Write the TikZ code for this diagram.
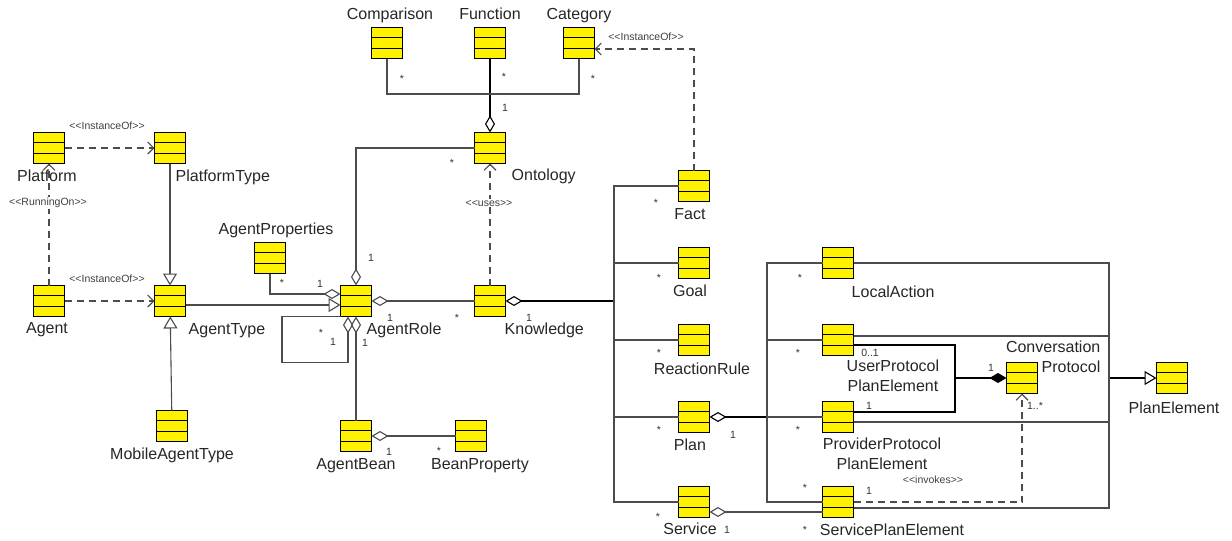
\documentclass[tikz,border=0pt]{standalone}
\usepackage{fontspec}
\setmainfont{Liberation Sans}
\usetikzlibrary{positioning,arrows.meta,calc}
\newcommand{\sttype}[1]{<\kern0pt<#1>\kern0pt>}
\tikzset{
	uml/.style={x=1pt,y=-1pt,line join=miter},
	cls/.style={rectangle,draw=black,line width=1.3pt,fill=yellow,minimum width=31pt,minimum height=31pt,inner sep=0pt,outer sep=0pt,
		path picture={\draw[line width=1.3pt]
			([yshift=-10.33pt]path picture bounding box.north west) -- ([yshift=-10.33pt]path picture bounding box.north east)
			([yshift=10.33pt]path picture bounding box.south west) -- ([yshift=10.33pt]path picture bounding box.south east);}},
	cname/.style={font=\fontsize{16}{20}\selectfont,inner sep=0pt,align=center,text=black!85,text height=11.7pt,text depth=3.4pt},
	cname2/.style={cname,text height=,text depth=},
	mult/.style={font=\fontsize{10.5}{12}\selectfont,inner sep=0pt,text=black!80},
	stereo/.style={font=\fontsize{10.5}{12}\selectfont,inner sep=1pt,text=black!75},
	assoc/.style={draw=black!70,line width=1.1pt},
	aggr/.style={assoc,{Diamond[open,length=17pt,width=10pt]}-},
	comp/.style={assoc,draw=black,{Diamond[length=17pt,width=10pt]}-},
	gen/.style={assoc,-{Triangle[open,length=12pt,width=14pt]}},
	dep/.style={assoc,dash pattern=on 7pt off 5pt,-{Straight Barb[length=6pt,width=12pt]}}
}

\begin{document}
\begin{tikzpicture}[uml]
	\useasboundingbox (0,0) rectangle (1232,541);
	
	% classes
	\node[cls] (comparison) at (387,43) {};
	\node[cls] (function) at (490,43) {};
	\node[cls] (category) at (579,43) {};
	\node[cls] (ontology) at (490,148) {};
	\node[cls] (platform) at (49,148) {};
	\node[cls] (platformtype) at (170,148) {};
	\node[cls] (agent) at (49,301) {};
	\node[cls] (agenttype) at (170,301) {};
	\node[cls] (mobileagenttype) at (172,426) {};
	\node[cls] (agentproperties) at (270,258) {};
	\node[cls] (agentrole) at (356,301) {};
	\node[cls] (knowledge) at (490,301) {};
	\node[cls] (agentbean) at (356,436) {};
	\node[cls] (beanproperty) at (471,436) {};
	\node[cls] (fact) at (694,186) {};
	\node[cls] (goal) [below=46pt of fact] {};
	\node[cls] (reactionrule) [below=46pt of goal] {};
	\node[cls] (plan) [below=46pt of reactionrule] {};
	\node[cls] (service) [below=54pt of plan] {};
	\node[cls] (localaction) at (838,263) {};
	\node[cls] (userprotocol) [below=46pt of localaction] {};
	\node[cls] (providerprotocol) [below=46pt of userprotocol] {};
	\node[cls] (serviceplanelement) [below=54pt of providerprotocol] {};
	\node[cls] (convprotocol) at (1022,378) {};
	\node[cls] (planelement) at (1172,378) {};
	
	% class names
	\node[cname] (comparison-l) [above=4pt of comparison, xshift=3pt] {Comparison};
	\node[cname] (function-l) [above=4pt of function] {Function};
	\node[cname] (category-l) [above=4pt of category] {Category};
	\node[cname] (ontology-l) [below right=5pt and 6pt of ontology] {Ontology};
	\node[cname] (platform-l) [below=6pt of platform, xshift=-2pt] {Platform};
	\node[cname] (platformtype-l) [below right=6pt and -10pt of platformtype] {PlatformType};
	\node[cname] (agent-l) [below=5pt of agent, xshift=-2pt] {Agent};
	\node[cname] (agenttype-l) [below right=6pt and 3pt of agenttype] {AgentType};
	\node[cname] (mobileagenttype-l) [below=6pt of mobileagenttype] {MobileAgentType};
	\node[cname] (agentproperties-l) [above=4pt of agentproperties, xshift=6pt] {AgentProperties};
	\node[cname] (agentrole-l) [below right=6pt and -5pt of agentrole] {AgentRole};
	\node[cname] (knowledge-l) [below right=6pt and -1pt of knowledge] {Knowledge};
	\node[cname] (agentbean-l) [below=6pt of agentbean] {AgentBean};
	\node[cname] (beanproperty-l) [below=6pt of beanproperty, xshift=9pt] {BeanProperty};
	\node[cname] (fact-l) [below=6pt of fact, xshift=-4pt] {Fact};
	\node[cname] (goal-l) [below=6pt of goal, xshift=-4pt] {Goal};
	\node[cname] (reactionrule-l) [below=7pt of reactionrule, xshift=8pt] {ReactionRule};
	\node[cname] (plan-l) [below=6pt of plan, xshift=-4pt] {Plan};
	\node[cname] (service-l) [below=5pt of service, xshift=-4pt] {Service};
	\node[cname] (localaction-l) [below right=7pt and -2pt of localaction] {LocalAction};
	\node[cname2] (userprotocol-l) [below right=4pt and -7pt of userprotocol] {UserProtocol\\PlanElement};
	\node[cname2] (providerprotocol-l) [below=5pt of providerprotocol, xshift=44pt] {ProviderProtocol\\PlanElement};
	\node[cname] (serviceplanelement-l) [below=6pt of serviceplanelement, xshift=54pt] {ServicePlanElement};
	\node[cname2, align=right, anchor=north east] (convprotocol-l) at ([shift={(63,-22)}]convprotocol.north east) {Conversation\\Protocol};
	\node[cname] (planelement-l) [below=8pt of planelement, xshift=2pt] {PlanElement};
	
	% agent side
	\draw[dep] (platform) -- (platformtype);
	\draw[dep] (agent) -- (platform);
	\draw[dep] (agent) -- (agenttype);
	\draw[gen] (platformtype) -- (agenttype);
	\draw[gen] (mobileagenttype) -- (agenttype);
	\draw[gen] ([yshift=-4pt]agenttype.east) -- ([yshift=-4pt]agentrole.west);
	\draw[aggr] ([yshift=7pt]agentrole.west) -| (agentproperties);
	\draw[aggr] ([xshift=-8pt]agentrole.south) |- ++(-66,46) |- (agentrole.south west);
	\draw[aggr] (agentrole) -- (agentbean);
	\draw[aggr] (agentbean) -- (beanproperty);
	\draw[aggr] (agentrole) -- (knowledge);
	\draw[aggr] (agentrole) |- (ontology);
	
	% ontology
	\coordinate (ontojoin) at (490,94);
	\draw[aggr,draw=black] (ontology) -- (function);
	\draw[assoc] (comparison) |- (ontojoin) -| (category);
	\draw[dep] (knowledge) -- (ontology);
	\draw[dep] (fact) |- ([yshift=-6pt]category.east);
	
	% knowledge parts
	\coordinate (kbus) at (614,301);
	\draw[aggr,draw=black] (knowledge) -- (kbus);
	\draw[assoc] (fact) -| (kbus |- service) -- (service);
	\draw[assoc] (goal) -- (goal -| kbus);
	\draw[assoc] (reactionrule) -- (reactionrule -| kbus);
	\draw[assoc] (plan) -- (plan -| kbus);
	
	% plan parts
	\coordinate (pbus) at (767,417);
	\draw[aggr,draw=black] (plan) -- (pbus);
	\draw[assoc] (localaction) -| (pbus) |- (serviceplanelement);
	\draw[assoc] (userprotocol) -- (userprotocol -| pbus);
	\draw[assoc] (providerprotocol) -- (pbus);
	\draw[aggr] ([yshift=-10pt]service.east) -- ([yshift=-10pt]serviceplanelement.west);
	
	% plan elements
	\coordinate (gbus) at (1109,378);
	\draw[gen,draw=black] (gbus) -- (planelement);
	\draw[assoc] (localaction) -| (gbus) |- ([yshift=-6pt]serviceplanelement.east);
	\draw[assoc] ([yshift=4pt]userprotocol.east) -| (gbus);
	\draw[assoc] ([yshift=-5pt]providerprotocol.east) -| (gbus);
	\coordinate (cjoin) at (955,378);
	\draw[comp] (convprotocol) -- (cjoin);
	\draw[assoc,draw=black] ([yshift=-5pt]userprotocol.east) -| (cjoin) |- ([yshift=5pt]providerprotocol.east);
	\draw[dep] (serviceplanelement) -| (convprotocol);
	
	% stereotypes
	\node[stereo] (instanceof-pt) at (107,126) {\sttype{InstanceOf}};
	\node[stereo,fill=white] (runningon) at (48,203) {\sttype{RunningOn}};
	\node[stereo] (instanceof-at) at (107,279) {\sttype{InstanceOf}};
	\node[stereo] (instanceof-cat) at (646,37) {\sttype{InstanceOf}};
	\node[stereo,fill=white] (uses) at (489,203) {\sttype{uses}};
	\node[stereo] (invokes) at (933,480) {\sttype{invokes}};
	
	% multiplicities
	\node[mult] (m1) at (402,79) {*};
	\node[mult] (m2) at (504,77) {*};
	\node[mult] (m3) at (593,79) {*};
	\node[mult] (m4) at (505,108) {1};
	\node[mult] (m5) at (452,163) {*};
	\node[mult] (m6) at (371,258) {1};
	\node[mult] (m7) at (282,283) {*};
	\node[mult] (m8) at (320,284) {1};
	\node[mult] (m9) at (321,333) {*};
	\node[mult] (m10) at (333,342) {1};
	\node[mult] (m11) at (365,343) {1};
	\node[mult] (m12) at (390,318) {1};
	\node[mult] (m13) at (457,318) {*};
	\node[mult] (m14) at (529,318) {1};
	\node[mult] (m15) at (389,452) {1};
	\node[mult] (m16) at (439,451) {*};
	\node[mult] (m17) at (656,203) {*};
	\node[mult] (m18) at (659,278) {*};
	\node[mult] (m19) at (659,353) {*};
	\node[mult] (m20) at (659,430) {*};
	\node[mult] (m21) at (658,517) {*};
	\node[mult] (m22) at (733,435) {1};
	\node[mult] (m23) at (727,530) {1};
	\node[mult] (m24) at (800,278) {*};
	\node[mult] (m25) at (798,353) {*};
	\node[mult] (m26) at (798,430) {*};
	\node[mult] (m27) at (805,488) {*};
	\node[mult] (m28) at (805,530) {*};
	\node[mult] (m29) at (870,353) {0..1};
	\node[mult] (m30) at (869,406) {1};
	\node[mult] (m31) at (869,491) {1};
	\node[mult] (m32) at (991,368) {1};
	\node[mult] (m33) at (1035,406) {1..*};
\end{tikzpicture}
\end{document}
